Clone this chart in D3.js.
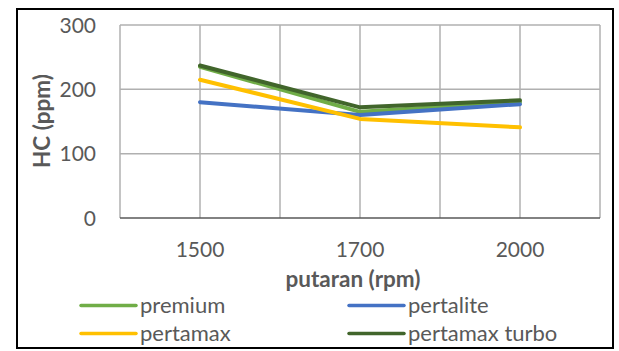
<!DOCTYPE html>
<html>
<head>
<meta charset="utf-8">
<script src="https://cdn.jsdelivr.net/npm/d3@7"></script>
<style>
  body { margin: 0; background: #fff; }
  text { font-family: Lato, "Open Sans", sans-serif; fill: #595959; }
</style>
</head>
<body>
<div id="chart"></div>
<script>
// data
var categories = ["1500", "1700", "2000"];
var seriesNames = ["premium", "pertalite", "pertamax", "pertamax turbo"];
var premium = [235, 165, 180];
var pertalite = [180, 160, 177];
var pertamax = [215, 154, 141];
var pertamaxTurbo = [237, 172, 183];
var yTicks = [0, 100, 200, 300];

var colors = ["#70ad47", "#4472c4", "#ffc000", "#41652b"];
var seriesValues = [premium, pertalite, pertamax, pertamaxTurbo];

var WIDTH = 619, HEIGHT = 351;
var plot = { left: 120, right: 600, top: 25, bottom: 218 };

var svg = d3.select("#chart").append("svg")
    .attr("width", WIDTH)
    .attr("height", HEIGHT);

// outer frame
svg.append("rect")
    .attr("x", 17).attr("y", 9)
    .attr("width", 596).attr("height", 339)
    .attr("fill", "none")
    .attr("stroke", "#000")
    .attr("stroke-width", 2);

var xScale = d3.scaleBand()
    .domain(categories)
    .range([plot.left, plot.right])
    .padding(0);
var bw = xScale.bandwidth();

var yScale = d3.scaleLinear()
    .domain([0, 300])
    .range([plot.bottom, plot.top]);

// vertical gridlines: band edges and category centres
var vLines = [];
categories.forEach(function(c) {
    vLines.push(xScale(c));
    vLines.push(xScale(c) + bw / 2);
});
vLines.push(plot.right);

svg.append("g").selectAll("line")
    .data(vLines)
    .enter().append("line")
    .attr("x1", function(d) { return d; })
    .attr("x2", function(d) { return d; })
    .attr("y1", plot.top)
    .attr("y2", plot.bottom)
    .attr("stroke", "#b0b0b0")
    .attr("stroke-width", 1.5);

// horizontal gridlines
svg.append("g").selectAll("line")
    .data(yTicks.filter(function(t) { return t > 0; }))
    .enter().append("line")
    .attr("x1", plot.left)
    .attr("x2", plot.right)
    .attr("y1", function(d) { return yScale(d); })
    .attr("y2", function(d) { return yScale(d); })
    .attr("stroke", "#b0b0b0")
    .attr("stroke-width", 1.5);

// x axis line
svg.append("line")
    .attr("x1", plot.left).attr("x2", plot.right)
    .attr("y1", yScale(0)).attr("y2", yScale(0))
    .attr("stroke", "#595959")
    .attr("stroke-width", 1.5);

// y tick labels
svg.append("g").selectAll("text")
    .data(yTicks)
    .enter().append("text")
    .attr("x", 96)
    .attr("y", function(d) { return yScale(d); })
    .attr("dy", "0.36em")
    .attr("text-anchor", "end")
    .style("font-size", "21px")
    .text(function(d) { return d; });

// x tick labels
svg.append("g").selectAll("text")
    .data(categories)
    .enter().append("text")
    .attr("x", function(d) { return xScale(d) + bw / 2; })
    .attr("y", 257)
    .attr("text-anchor", "middle")
    .style("font-size", "21px")
    .text(function(d) { return d; });

// axis titles
svg.append("text")
    .attr("x", 353)
    .attr("y", 287)
    .attr("text-anchor", "middle")
    .style("font-size", "22.5px")
    .style("font-weight", "bold")
    .text("putaran (rpm)");

svg.append("text")
    .attr("transform", "translate(41.5,121) rotate(-90)")
    .attr("dy", "0.36em")
    .attr("text-anchor", "middle")
    .style("font-size", "22.5px")
    .style("font-weight", "bold")
    .text("HC (ppm)");

// series lines
var line = d3.line()
    .x(function(d, i) { return xScale(categories[i]) + bw / 2; })
    .y(function(d) { return yScale(d); });

svg.append("g").selectAll("path")
    .data(seriesValues)
    .enter().append("path")
    .attr("d", line)
    .attr("fill", "none")
    .attr("stroke", function(d, i) { return colors[i]; })
    .attr("stroke-width", 4)
    .attr("stroke-linejoin", "round")
    .attr("stroke-linecap", "round");

// legend, two columns
var legendPos = [
    { x: 81, y: 305.5 },
    { x: 349, y: 305.5 },
    { x: 81, y: 333.5 },
    { x: 349, y: 333.5 }
];

var legend = svg.append("g").selectAll("g")
    .data(seriesNames)
    .enter().append("g")
    .attr("transform", function(d, i) {
        return "translate(" + legendPos[i].x + "," + legendPos[i].y + ")";
    });

legend.append("line")
    .attr("x1", 0).attr("x2", 55)
    .attr("y1", 0).attr("y2", 0)
    .attr("stroke", function(d, i) { return colors[i]; })
    .attr("stroke-width", 3.5)
    .attr("stroke-linecap", "round");

legend.append("text")
    .attr("x", 59)
    .attr("y", 7.5)
    .style("font-size", "22px")
    .text(function(d) { return d; });
</script>
</body>
</html>
